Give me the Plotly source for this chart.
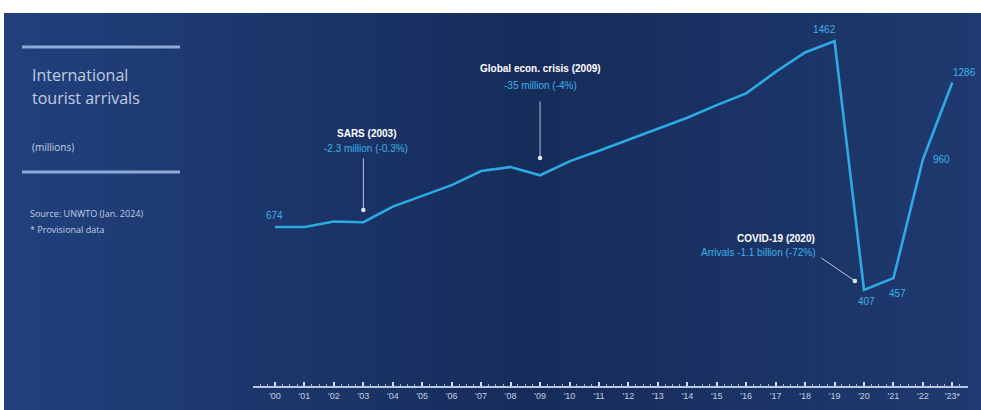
import plotly.graph_objects as go

years = list(range(2000, 2024))
arrivals = [674, 674, 697, 694, 760, 807, 851, 911, 928, 893, 952, 997, 1043, 1090,
            1137, 1190, 1240, 1331, 1413, 1462, 407, 457, 960, 1286]
tick_labels = ["'00", "'01", "'02", "'03", "'04", "'05", "'06", "'07", "'08", "'09", "'10",
               "'11", "'12", "'13", "'14", "'15", "'16", "'17", "'18", "'19", "'20",
               "'21", "'22", "'23*"]
labelled_years = [2000, 2019, 2020, 2021, 2022, 2023]

events = [
    {"title": "SARS (2003)", "sub": "-2.3 million (-0.3%)", "x": 2003, "y": 746,
     "tx": 2003.1, "ty": 1072, "sy": 1008, "anchor": "center", "ax": 0, "ay": -53},
    {"title": "Global econ. crisis (2009)", "sub": "-35 million (-4%)", "x": 2009, "y": 966,
     "tx": 2009.0, "ty": 1347, "sy": 1275, "anchor": "center", "ax": 0, "ay": -58},
    {"title": "COVID-19 (2020)", "sub": "Arrivals -1.1 billion (-72%)", "x": 2019.69, "y": 445,
     "tx": 2018.4, "ty": 627, "sy": 564, "anchor": "right", "ax": -35, "ay": -24},
]

W, H = 981, 410
CYAN = "#2ea9e3"
LABEL = "#3db1ea"
PALE = "#c3cde2"

fig = go.Figure()
fig.add_trace(go.Scatter(x=years, y=arrivals, mode="lines",
                         line=dict(color=CYAN, width=2.6), hoverinfo="skip",
                         showlegend=False))

shapes = []
# white frame strips (top/left) and gradient background
shapes.append(dict(type="rect", xref="paper", yref="paper", x0=0, x1=1, y0=0, y1=1,
                   fillcolor="white", line_width=0, layer="below"))
def lerp(c1, c2, t):
    return tuple(int(round(a + (b - a) * t)) for a, b in zip(c1, c2))
left_c, mid_c, right_c = (33, 64, 124), (22, 44, 90), (31, 58, 112)
n = 60
x_start = 4 / W
for i in range(n):
    f0 = x_start + (1 - x_start) * i / n
    f1 = x_start + (1 - x_start) * (i + 1) / n + 0.001
    t = i / (n - 1)
    if t < 0.55:
        c = lerp(left_c, mid_c, t / 0.55)
    else:
        c = lerp(mid_c, right_c, (t - 0.55) / 0.45)
    shapes.append(dict(type="rect", xref="paper", yref="paper", x0=f0, x1=min(f1, 1),
                       y0=0, y1=1 - 13 / H, fillcolor="rgb(%d,%d,%d)" % c,
                       line_width=0, layer="below"))
# left panel rules
for ypx in (47, 172):
    shapes.append(dict(type="line", xref="paper", yref="paper", x0=22 / W, x1=180 / W,
                       y0=1 - ypx / H, y1=1 - ypx / H,
                       line=dict(color="#8eaad6", width=3)))

ann = []
def pa(xpx, ypx, text, size, color, anchor="left", weight=None, family="Open Sans"):
    ann.append(dict(xref="paper", yref="paper", x=xpx / W, y=1 - ypx / H, text=text,
                    showarrow=False, xanchor=anchor, yanchor="middle",
                    font=dict(size=size, color=color, family=family,
                              weight=weight if weight else "normal")))

pa(30, 75, "International", 16, PALE)
pa(30, 98, "tourist arrivals", 16, PALE)
pa(30, 147, "(millions)", 10, PALE)
pa(28, 213, "Source: UNWTO (Jan. 2024)", 9, PALE)
pa(28, 229, "* Provisional data", 9, PALE)

for e in events:
    ann.append(dict(x=e["x"], y=e["y"], xref="x", yref="y", text="", showarrow=True,
                    ax=e["ax"], ay=e["ay"], axref="pixel", ayref="pixel",
                    arrowhead=6, arrowsize=1.4, arrowwidth=0.8, arrowcolor="#e6ecf5"))
    ann.append(dict(x=e["tx"], y=e["ty"], xref="x", yref="y", text=e["title"],
                    showarrow=False, xanchor=e["anchor"], yanchor="middle",
                    font=dict(size=10, color="white", family="Liberation Sans", weight="bold")))
    ann.append(dict(x=e["tx"], y=e["sy"], xref="x", yref="y", text=e["sub"],
                    showarrow=False, xanchor=e["anchor"], yanchor="middle",
                    font=dict(size=10, color=LABEL, family="Liberation Sans")))

label_style = {
    2000: dict(xanchor="center", yanchor="bottom", xshift=-1, yshift=4),
    2019: dict(xanchor="right", yanchor="bottom", xshift=3, yshift=4),
    2020: dict(xanchor="center", yanchor="top", xshift=2, yshift=-4),
    2021: dict(xanchor="center", yanchor="top", xshift=4, yshift=-8),
    2022: dict(xanchor="left", yanchor="middle", xshift=8, yshift=0),
    2023: dict(xanchor="left", yanchor="bottom", xshift=-1, yshift=3),
}
for yr in labelled_years:
    v = arrivals[years.index(yr)]
    ann.append(dict(x=yr, y=v, xref="x", yref="y", text=str(v), showarrow=False,
                    font=dict(size=10, color=LABEL, family="Liberation Sans"),
                    **label_style[yr]))

px_per_year = 29.45
x0_px, xl_px, xr_px = 275, 253, 968
y_axis_px = 386
px_per_unit = 0.236

fig.update_layout(
    width=W, height=H, margin=dict(l=0, r=0, t=0, b=0),
    paper_bgcolor="white", plot_bgcolor="rgba(0,0,0,0)",
    shapes=shapes, annotations=ann, showlegend=False,
    xaxis=dict(domain=[xl_px / W, xr_px / W],
               range=[2000 - (x0_px - xl_px) / px_per_year, 2000 + (xr_px - x0_px) / px_per_year],
               tickmode="array", tickvals=years, ticktext=tick_labels,
               showgrid=False, zeroline=False, showline=True,
               linecolor="#b9c7e2", linewidth=1.5,
               ticks="inside", ticklen=4, tickwidth=1.5, tickcolor="#d5def0",
               minor=dict(dtick=0.25, ticks="inside", ticklen=2, tickcolor="#9fb1d6",
                          tickwidth=1, showgrid=False),
               tickfont=dict(size=9, color=PALE, family="Liberation Sans"),
               fixedrange=True),
    yaxis=dict(domain=[(H - y_axis_px) / H, 1], range=[0, y_axis_px / px_per_unit],
               visible=False, fixedrange=True),
)

fig.write_html("out.html")
